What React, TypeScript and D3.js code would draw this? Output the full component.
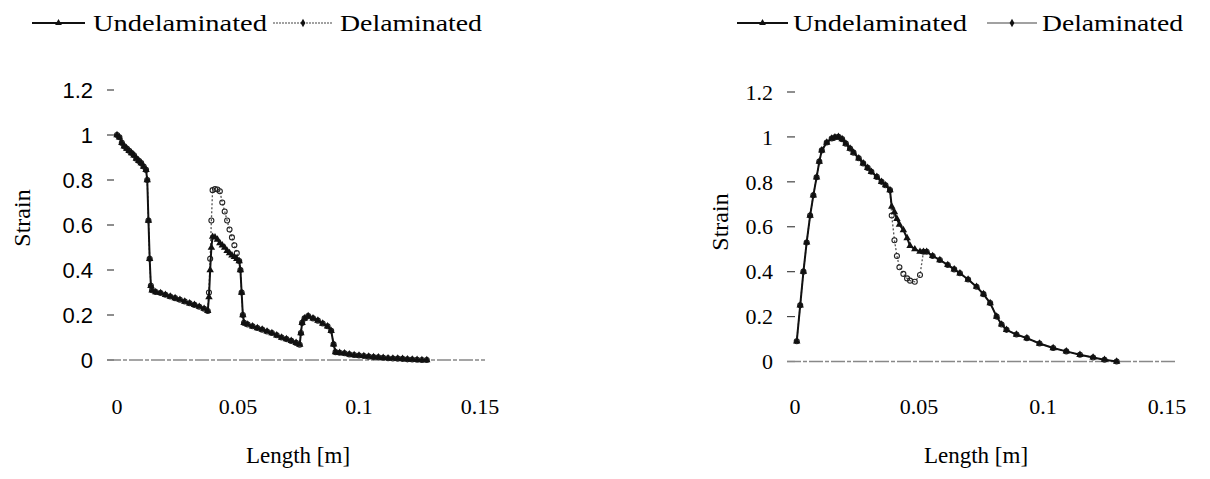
import React, { useEffect, useRef } from 'react';
import * as d3 from 'd3';

// left chart: length [m] and strain
const lengthLeft = [
  0, 0.001, 0.002, 0.003, 0.004, 0.005, 0.006, 0.007, 0.008, 0.009, 0.010, 0.011, 0.012,
  0.0125, 0.013, 0.0135, 0.014, 0.0145,
  0.016, 0.018, 0.020, 0.022, 0.024, 0.026, 0.028, 0.030, 0.032, 0.034, 0.036, 0.0375,
  0.038, 0.0385, 0.039, 0.0395, 0.0405, 0.0415, 0.0425, 0.0435, 0.0445, 0.0455, 0.0465, 0.0475, 0.0485, 0.0495, 0.0505,
  0.051, 0.0515, 0.052, 0.0525,
  0.054, 0.056, 0.058, 0.060, 0.062, 0.064, 0.066, 0.068, 0.070, 0.072, 0.074, 0.0755,
  0.076, 0.0765, 0.0775, 0.079, 0.081, 0.083, 0.085, 0.087, 0.0885, 0.0895, 0.0903,
  0.092, 0.094, 0.096, 0.098, 0.100, 0.102, 0.104, 0.106, 0.108, 0.110, 0.112, 0.114, 0.116, 0.118, 0.120, 0.122, 0.124, 0.126, 0.128
];
const undelLeft = [
  1.0, 0.99, 0.965, 0.95, 0.94, 0.93, 0.92, 0.91, 0.895, 0.885, 0.875, 0.86, 0.845,
  0.80, 0.62, 0.45, 0.33, 0.31,
  0.302, 0.298, 0.29, 0.282, 0.275, 0.268, 0.26, 0.252, 0.245, 0.237, 0.228, 0.218,
  0.28, 0.40, 0.50, 0.548, 0.545, 0.535, 0.52, 0.51, 0.50, 0.485, 0.475, 0.465, 0.458, 0.45, 0.44,
  0.40, 0.30, 0.20, 0.165,
  0.158, 0.15, 0.142, 0.135, 0.127, 0.12, 0.11, 0.10, 0.093, 0.085, 0.076, 0.068,
  0.12, 0.165, 0.185, 0.195, 0.185, 0.175, 0.162, 0.15, 0.13, 0.07, 0.035,
  0.032, 0.03, 0.025, 0.022, 0.02, 0.018, 0.015, 0.013, 0.012, 0.01, 0.008, 0.007, 0.006, 0.005, 0.003, 0.002, 0.001, 0.0, 0.0
];
const delamLeft = [
  1.0, 0.99, 0.965, 0.95, 0.94, 0.93, 0.92, 0.91, 0.895, 0.885, 0.875, 0.86, 0.845,
  0.80, 0.62, 0.45, 0.33, 0.31,
  0.302, 0.298, 0.29, 0.282, 0.275, 0.268, 0.26, 0.252, 0.245, 0.237, 0.228, 0.218,
  0.30, 0.45, 0.62, 0.755, 0.76, 0.758, 0.75, 0.70, 0.66, 0.62, 0.58, 0.545, 0.51, 0.475, 0.44,
  0.40, 0.30, 0.20, 0.165,
  0.158, 0.15, 0.142, 0.135, 0.127, 0.12, 0.11, 0.10, 0.093, 0.085, 0.076, 0.068,
  0.12, 0.165, 0.185, 0.195, 0.185, 0.175, 0.162, 0.15, 0.13, 0.07, 0.035,
  0.032, 0.03, 0.025, 0.022, 0.02, 0.018, 0.015, 0.013, 0.012, 0.01, 0.008, 0.007, 0.006, 0.005, 0.003, 0.002, 0.001, 0.0, 0.0
];

// right chart
const lengthRight = [
  0.0007, 0.0021, 0.0034, 0.0047, 0.0061, 0.0074, 0.0087, 0.0098, 0.0108, 0.0128,
  0.0148, 0.0161, 0.0175, 0.019, 0.0205, 0.0222, 0.0236, 0.0257, 0.0275, 0.0293,
  0.0308, 0.033, 0.0349, 0.0365, 0.0383, 0.039, 0.0401, 0.0411, 0.0421, 0.0437,
  0.0452, 0.0464, 0.0483, 0.0504, 0.0518, 0.0531, 0.0555, 0.0584, 0.0616, 0.0642,
  0.0665, 0.0698, 0.0732, 0.076, 0.0787, 0.0813, 0.0833, 0.0853, 0.0893, 0.0935,
  0.0986, 0.1041, 0.1094, 0.1149, 0.1202, 0.1248, 0.1297
];
const undelRight = [
  0.09, 0.25, 0.40, 0.53, 0.65, 0.74, 0.82, 0.89, 0.94, 0.975,
  0.993, 0.998, 1.0, 0.99, 0.97, 0.948, 0.93, 0.905, 0.882, 0.862,
  0.845, 0.822, 0.80, 0.785, 0.763, 0.69, 0.665, 0.635, 0.61, 0.585,
  0.55, 0.515, 0.50, 0.489, 0.489, 0.489, 0.47, 0.452, 0.43, 0.41,
  0.393, 0.365, 0.333, 0.30, 0.26, 0.20, 0.165, 0.141, 0.12, 0.104,
  0.08, 0.06, 0.045, 0.03, 0.018, 0.008, 0.0
];
const delamRight = [
  0.09, 0.25, 0.40, 0.53, 0.65, 0.74, 0.82, 0.89, 0.94, 0.975,
  0.993, 0.998, 1.0, 0.99, 0.97, 0.948, 0.93, 0.905, 0.882, 0.862,
  0.845, 0.822, 0.80, 0.785, 0.763, 0.65, 0.54, 0.47, 0.42, 0.39,
  0.37, 0.36, 0.355, 0.385, 0.489, 0.489, 0.47, 0.452, 0.43, 0.41,
  0.393, 0.365, 0.333, 0.30, 0.26, 0.20, 0.165, 0.141, 0.12, 0.104,
  0.08, 0.06, 0.045, 0.03, 0.018, 0.008, 0.0
];

const xTicks = [0, 0.05, 0.1, 0.15];
const yTicks = [0, 0.2, 0.4, 0.6, 0.8, 1, 1.2];
const seriesNames = ['Undelaminated', 'Delaminated'];

const serif = "Liberation Serif, DejaVu Serif, serif";
const sans = "Liberation Sans, DejaVu Sans, sans-serif";

const panels = [
  {
    x: lengthLeft, u: undelLeft, d: delamLeft,
    xr: [117, 480], yr: [360, 90], tickX: [107, 114], labelX: 93, yFont: sans,
    axisEnd: 485, titleY: [22, 218], titleX: [298, 463],
    legend: [[32, 85, 93, 174], [273, 333, 340, 142]], dotted: true
  },
  {
    x: lengthRight, u: undelRight, d: delamRight,
    xr: [795, 1167], yr: [361.5, 92], tickX: [787, 795], labelX: 773, yFont: serif,
    axisEnd: 1176, titleY: [720, 222], titleX: [976, 463],
    legend: [[737, 788, 793, 174], [987, 1037, 1042, 141]], dotted: false
  }
];

const App = () => {
  const ref = useRef<SVGSVGElement>(null);

  useEffect(() => {
    const svg = d3.select(ref.current);
    svg.selectAll('*').remove();

    panels.forEach((p) => {
      const x = d3.scaleLinear().domain([0, 0.15]).range(p.xr);
      const y = d3.scaleLinear().domain([0, 1.2]).range(p.yr);
      const g = svg.append('g');

      // y ticks and labels, no axis line
      yTicks.forEach((t) => {
        g.append('line')
          .attr('x1', p.tickX[0]).attr('x2', p.tickX[1])
          .attr('y1', y(t)).attr('y2', y(t))
          .attr('stroke', '#444').attr('stroke-width', 1.2);
        g.append('text')
          .attr('x', p.labelX).attr('y', y(t)).attr('dy', '0.35em')
          .attr('text-anchor', 'end')
          .attr('font-family', p.yFont).attr('font-size', 22)
          .text(String(t));
      });

      // x axis line at 0
      g.append('line')
        .attr('x1', p.tickX[0]).attr('x2', p.axisEnd)
        .attr('y1', y(0)).attr('y2', y(0))
        .attr('stroke', '#888').attr('stroke-width', 1.3)
        .attr('stroke-dasharray', '14,2,4,2');

      xTicks.forEach((t) => {
        g.append('text')
          .attr('x', x(t)).attr('y', 414)
          .attr('text-anchor', 'middle')
          .attr('font-family', serif).attr('font-size', 22)
          .text(String(t));
      });

      g.append('text')
        .attr('x', p.titleX[0]).attr('y', p.titleX[1])
        .attr('text-anchor', 'middle')
        .attr('font-family', serif).attr('font-size', 23)
        .text('Length [m]');

      g.append('text')
        .attr('transform', `translate(${p.titleY[0]},${p.titleY[1]}) rotate(-90)`)
        .attr('dy', '0.35em')
        .attr('text-anchor', 'middle')
        .attr('font-family', serif).attr('font-size', 24)
        .text('Strain');

      const line = d3.line<number>()
        .x((_, i) => x(p.x[i]))
        .y((v) => y(v));

      // delaminated: dotted grey, hollow markers
      g.append('path')
        .datum(p.d)
        .attr('fill', 'none')
        .attr('stroke', '#555')
        .attr('stroke-width', 1.3)
        .attr('stroke-dasharray', '2,2')
        .attr('d', line);
      g.selectAll('.dm')
        .data(p.d)
        .join('circle')
        .attr('class', 'dm')
        .attr('cx', (_, i) => x(p.x[i]))
        .attr('cy', (v) => y(v))
        .attr('r', 2.5)
        .attr('fill', 'none')
        .attr('stroke', '#222')
        .attr('stroke-width', 1.1);

      // undelaminated: solid black with triangles
      g.append('path')
        .datum(p.u)
        .attr('fill', 'none')
        .attr('stroke', '#111')
        .attr('stroke-width', 2)
        .attr('d', line);
      const tri = d3.symbol().type(d3.symbolTriangle).size(24);
      g.selectAll('.um')
        .data(p.u)
        .join('path')
        .attr('class', 'um')
        .attr('transform', (v, i) => `translate(${x(p.x[i])},${y(v)})`)
        .attr('d', tri)
        .attr('fill', '#111');

      // legend
      p.legend.forEach((l, k) => {
        const ly = 23;
        g.append('line')
          .attr('x1', l[0]).attr('x2', l[1]).attr('y1', ly).attr('y2', ly)
          .attr('stroke', k === 0 ? '#111' : '#444')
          .attr('stroke-width', k === 0 ? 1.8 : 1.2)
          .attr('stroke-dasharray', k === 1 && p.dotted ? '2,1' : null);
        g.append('path')
          .attr('transform', `translate(${(l[0] + l[1]) / 2},${ly})`)
          .attr('d', d3.symbol().type(k === 0 ? d3.symbolTriangle : d3.symbolDiamond).size(20))
          .attr('fill', '#111');
        g.append('text')
          .attr('x', l[2]).attr('y', 31)
          .attr('textLength', l[3]).attr('lengthAdjust', 'spacingAndGlyphs')
          .attr('font-family', serif).attr('font-size', 23)
          .text(seriesNames[k]);
      });
    });
  }, []);

  return (
    <svg ref={ref} width={1210} height={479}
      style={{ position: 'absolute', left: 0, top: 0, background: '#fff' }} />
  );
};

export default App;
